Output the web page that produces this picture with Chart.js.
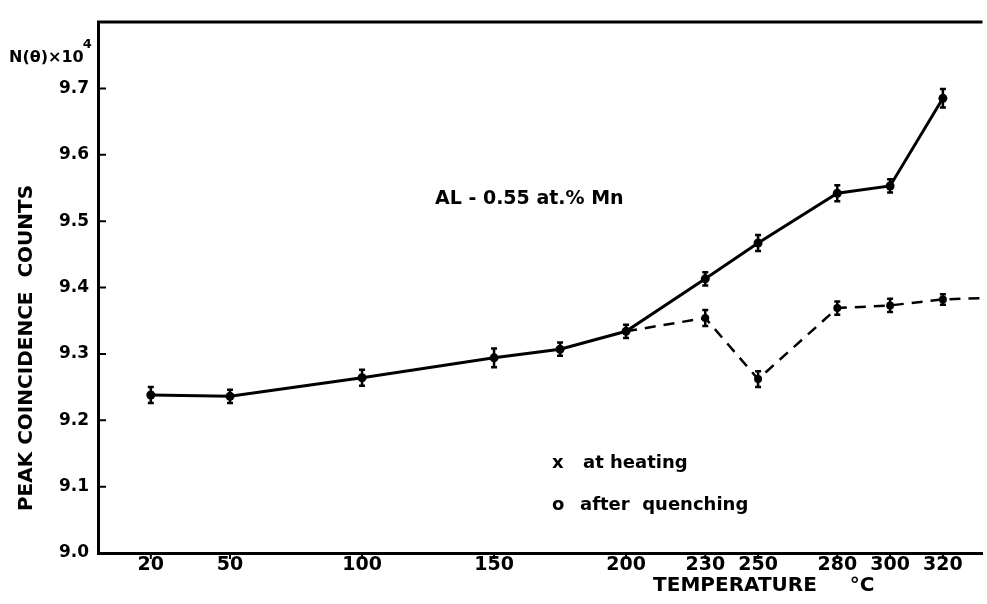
<!DOCTYPE html>
<html>
<head>
<meta charset="utf-8">
<title>Peak coincidence counts vs temperature</title>
<script src="https://cdn.jsdelivr.net/npm/chart.js@4"></script>
<style>
    html, body { margin: 0; padding: 0; background: #fff; }
    #wrap { width: 987px; height: 604px; }
</style>
</head>
<body>
<div id="wrap"><canvas id="chart" width="987" height="604"></canvas></div>
<script>
// Tick labels on the temperature axis (°C)
const tempTicks = [20, 50, 100, 150, 200, 230, 250, 280, 300, 320];
// Tick labels on the count axis, N(θ) x 10^4
const countTicks = [9.0, 9.1, 9.2, 9.3, 9.4, 9.5, 9.6, 9.7];

// x  at heating (solid line)
const heatingTemps  = [20, 50, 100, 150, 175, 200, 230, 250, 280, 300, 320];
const heatingCounts = [9.238, 9.236, 9.264, 9.294, 9.307, 9.334, 9.413, 9.467, 9.542, 9.553, 9.685];
const heatingErr    = [0.012, 0.010, 0.012, 0.014, 0.010, 0.010, 0.010, 0.012, 0.012, 0.010, 0.014];

// o  after quenching (dashed line, splits off at 200 °C and runs on past 320)
const quenchTemps  = [200, 230, 250, 280, 300, 320, 335];
const quenchCounts = [9.334, 9.354, 9.262, 9.369, 9.373, 9.382, 9.384];
const quenchErr    = [null, 0.012, 0.012, 0.010, 0.010, 0.008, null];

const FONT = 'DejaVu Sans';

function toPoints(xs, ys) {
    return xs.map((x, i) => ({ x: x, y: ys[i] }));
}

/**
 * Vertical error bars with small caps, drawn from each dataset's errors list
 */
const errorBars = {
    id: 'errorBars',
    afterDatasetsDraw(chart) {
        const ctx = chart.ctx;
        const yScale = chart.scales.y;
        ctx.save();
        ctx.strokeStyle = '#000';
        ctx.lineWidth = 2.5;
        chart.data.datasets.forEach((ds, i) => {
            const meta = chart.getDatasetMeta(i);
            meta.data.forEach((pt, j) => {
                const err = ds.errors[j];
                if (err == null) return;
                const v = ds.data[j].y;
                const top = yScale.getPixelForValue(v + err);
                const bottom = yScale.getPixelForValue(v - err);
                ctx.beginPath();
                ctx.moveTo(pt.x, top);
                ctx.lineTo(pt.x, bottom);
                ctx.moveTo(pt.x - 3, top);
                ctx.lineTo(pt.x + 3, top);
                ctx.moveTo(pt.x - 3, bottom);
                ctx.lineTo(pt.x + 3, bottom);
                ctx.stroke();
            });
        });
        ctx.restore();
    }
};

/**
 * Frame top line, tick marks, axis titles and the notes inside the plot
 */
const decorations = {
    id: 'decorations',
    afterDraw(chart) {
        const ctx = chart.ctx;
        const area = chart.chartArea;
        const xScale = chart.scales.x;
        const yScale = chart.scales.y;
        ctx.save();
        ctx.strokeStyle = '#000';
        ctx.fillStyle = '#000';

        // top edge of the frame
        ctx.lineWidth = 3;
        ctx.beginPath();
        ctx.moveTo(area.left - 1, area.top);
        ctx.lineTo(area.right, area.top);
        ctx.stroke();

        // tick marks: inward on y, outward on x
        ctx.lineWidth = 2;
        ctx.beginPath();
        countTicks.forEach(v => {
            const py = yScale.getPixelForValue(v);
            ctx.moveTo(area.left, py);
            ctx.lineTo(area.left + 8, py);
        });
        tempTicks.forEach(v => {
            const px = xScale.getPixelForValue(v);
            ctx.moveTo(px, area.bottom);
            ctx.lineTo(px, area.bottom + 6);
        });
        ctx.stroke();

        // N(θ) x 10^4 unit label
        ctx.textBaseline = 'alphabetic';
        ctx.textAlign = 'left';
        ctx.font = 'bold 16px ' + FONT;
        ctx.fillText('N(θ)×10', 9, 62);
        const w = ctx.measureText('N(θ)×10').width;
        ctx.font = 'bold 13px ' + FONT;
        ctx.fillText('4', 8 + w, 48);

        // y axis title
        ctx.save();
        ctx.translate(27, 348);
        ctx.rotate(-Math.PI / 2);
        ctx.textAlign = 'center';
        ctx.textBaseline = 'middle';
        ctx.font = 'bold 20px ' + FONT;
        ctx.fillText('PEAK COINCIDENCE  COUNTS', 0, 0);
        ctx.restore();

        // x axis title
        ctx.textAlign = 'center';
        ctx.textBaseline = 'middle';
        ctx.font = 'bold 20px ' + FONT;
        ctx.fillText('TEMPERATURE', 735, 586);
        ctx.fillText('°C', 862, 586);

        // alloy note and legend
        ctx.textAlign = 'left';
        ctx.font = 'bold 19px ' + FONT;
        ctx.fillText('AL - 0.55 at.% Mn', 435, 199);
        ctx.font = 'bold 18px ' + FONT;
        ctx.fillText('x', 552, 463);
        ctx.fillText('at heating', 583, 463);
        ctx.fillText('o', 552, 505);
        ctx.fillText('after  quenching', 580, 505);

        ctx.restore();
    }
};

document.addEventListener('DOMContentLoaded', function() {
    const ctx = document.getElementById('chart');

    new Chart(ctx, {
        type: 'scatter',
        data: {
            datasets: [
                {
                    label: 'at heating',
                    data: toPoints(heatingTemps, heatingCounts),
                    errors: heatingErr,
                    showLine: true,
                    borderColor: '#000',
                    borderWidth: 3,
                    backgroundColor: '#000',
                    pointRadius: 4.5,
                    pointBorderWidth: 0,
                    tension: 0
                },
                {
                    label: 'after quenching',
                    data: toPoints(quenchTemps, quenchCounts),
                    errors: quenchErr,
                    showLine: true,
                    borderColor: '#000',
                    borderWidth: 2.5,
                    borderDash: [11, 8],
                    backgroundColor: '#000',
                    pointRadius: c => (quenchErr[c.dataIndex] == null ? 0 : 4),
                    pointBorderWidth: 0,
                    tension: 0
                }
            ]
        },
        options: {
            responsive: false,
            animation: false,
            layout: { padding: { top: 22, right: 0, bottom: 0, left: 0 } },
            plugins: {
                legend: { display: false },
                tooltip: { enabled: false }
            },
            scales: {
                x: {
                    type: 'linear',
                    min: 0,
                    max: 335,
                    afterFit: s => { s.height = 51; },
                    afterBuildTicks: s => { s.ticks = tempTicks.map(v => ({ value: v })); },
                    grid: { display: false, drawTicks: false },
                    border: { display: true, width: 3, color: '#000' },
                    ticks: {
                        padding: 1,
                        color: '#000',
                        autoSkip: false,
                        maxRotation: 0,
                        font: { family: FONT, size: 19, weight: 'bold' },
                        callback: v => String(v)
                    }
                },
                y: {
                    type: 'linear',
                    min: 9.0,
                    max: 9.8,
                    afterFit: s => { s.width = 98; },
                    afterBuildTicks: s => { s.ticks = countTicks.map(v => ({ value: v })); },
                    grid: { display: false, drawTicks: false },
                    border: { display: true, width: 3, color: '#000' },
                    ticks: {
                        padding: 9,
                        color: '#000',
                        autoSkip: false,
                        font: { family: FONT, size: 17, weight: 'bold' },
                        callback: v => v.toFixed(1)
                    }
                }
            }
        },
        plugins: [errorBars, decorations]
    });
});
</script>
</body>
</html>
